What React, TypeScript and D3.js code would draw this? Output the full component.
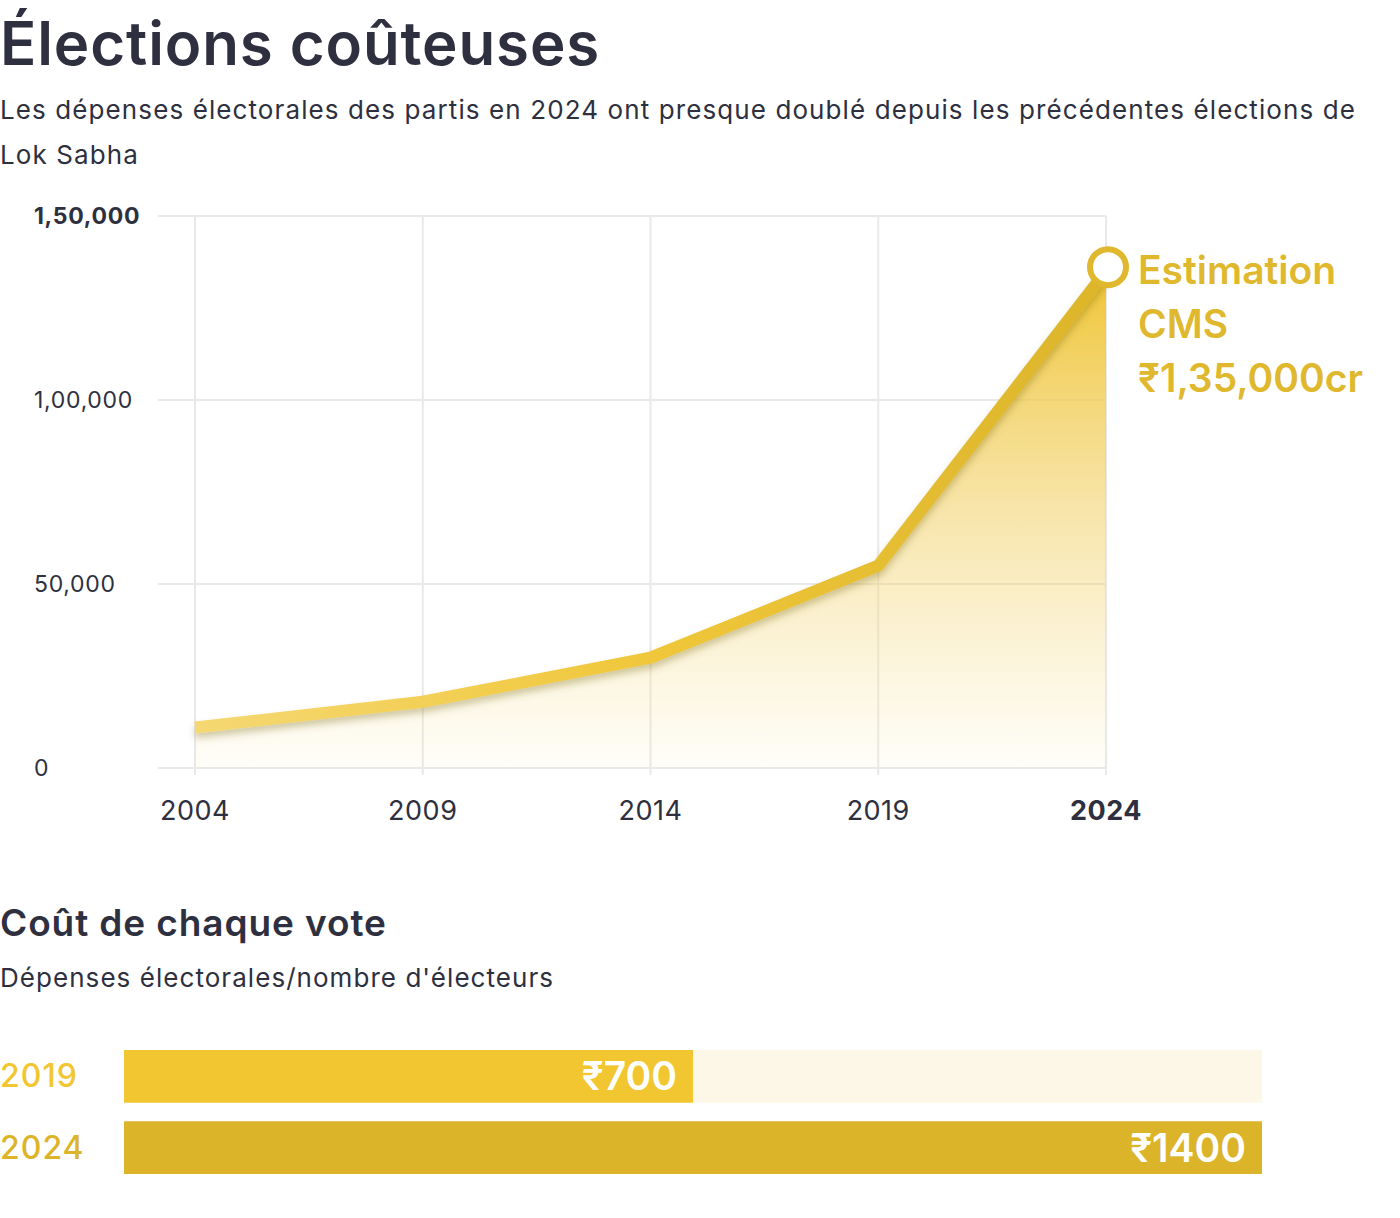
import React from "react";
import * as d3 from "d3";

const years = [2004, 2009, 2014, 2019, 2024];
const spending = [11000, 18000, 30000, 55000, 135000];
const yTicks = [0, 50000, 100000, 150000];
const yTickLabels = ["0", "50,000", "1,00,000", "1,50,000"];
const voteYears = ["2019", "2024"];
const voteCost = [700, 1400];
const voteLabels = ["₹700", "₹1400"];
const voteColors = ["#f1c630", "#dcb42a"];
const annotationLines = ["Estimation", "CMS", "₹1,35,000cr"];

const FONT = "Inter, 'Noto Sans', sans-serif";
const DARK = "#2e3040";

export default function App() {
  const x = d3.scalePoint<number>().domain(years).range([195, 1106]);
  const y = d3.scaleLinear().domain([0, 150000]).range([768, 216]);

  const pts: [number, number][] = years.map((yr, i) => [x(yr)!, y(spending[i])]);
  const line = d3.line<[number, number]>().x((d) => d[0]).y((d) => d[1]);
  const area = d3
    .area<[number, number]>()
    .x((d) => d[0])
    .y0(y(0))
    .y1((d) => d[1]);

  const barX = d3.scaleLinear().domain([0, 1400]).range([124, 1262]);
  const barY = d3.scaleBand<string>().domain(voteYears).range([1050, 1174]).paddingInner(0.26);

  const last = pts[pts.length - 1];

  return (
    <svg
      width={1400}
      height={1218}
      style={{ position: "absolute", left: 0, top: 0, background: "#fff" }}
      fontFamily={FONT}
    >
      <defs>
        <linearGradient id="areaGrad" gradientUnits="userSpaceOnUse" x1="0" y1={y(135000)} x2="0" y2={y(0)}>
          <stop offset="0" stopColor="#efc534" stopOpacity="1" />
          <stop offset="0.5" stopColor="#f2d16a" stopOpacity="0.55" />
          <stop offset="1" stopColor="#f6df8a" stopOpacity="0.06" />
        </linearGradient>
        <linearGradient id="lineGrad" gradientUnits="userSpaceOnUse" x1={x(2004)} y1="0" x2={x(2024)} y2="0">
          <stop offset="0" stopColor="#f5d873" />
          <stop offset="0.5" stopColor="#f0c73a" />
          <stop offset="1" stopColor="#dcb52b" />
        </linearGradient>
        <filter id="shadow" x="-10%" y="-10%" width="120%" height="130%">
          <feDropShadow dx="0" dy="5" stdDeviation="3.5" floodColor="#6b5a10" floodOpacity="0.3" />
        </filter>
      </defs>

      {/* Title */}
      <text x={0} y={65} fontSize={60} fontWeight={600} fill={DARK} letterSpacing={0.9}>
        Élections coûteuses
      </text>
      <text x={0} y={119} fontSize={26} fill={DARK} letterSpacing={1.1}>
        Les dépenses électorales des partis en 2024 ont presque doublé depuis les précédentes élections de
      </text>
      <text x={0} y={164} fontSize={26} fill={DARK} letterSpacing={1.1}>
        Lok Sabha
      </text>

      {/* Grid */}
      {yTicks.map((t) => (
        <line key={"h" + t} x1={158} x2={x(2024)} y1={y(t)} y2={y(t)} stroke="#e9e9e9" strokeWidth={2} />
      ))}
      {years.map((yr) => (
        <line key={"v" + yr} x1={x(yr)} x2={x(yr)} y1={y(150000)} y2={y(0) + 7} stroke="#e9e9e9" strokeWidth={2} />
      ))}

      {/* Y labels */}
      {yTicks.map((t, i) => (
        <text
          key={"yl" + t}
          x={34}
          y={y(t) + 8}
          fontSize={23}
          fontWeight={t === 150000 ? 700 : 400}
          fill={DARK}
          letterSpacing={0.7}
        >
          {yTickLabels[i]}
        </text>
      ))}

      {/* X labels */}
      {years.map((yr) => (
        <text
          key={"xl" + yr}
          x={x(yr)}
          y={820}
          fontSize={27}
          textAnchor="middle"
          fontWeight={yr === 2024 ? 700 : 400}
          fill={DARK}
          letterSpacing={0.5}
        >
          {yr}
        </text>
      ))}

      {/* Area & line */}
      <path d={area(pts)!} fill="url(#areaGrad)" />
      <path
        d={line(pts)!}
        fill="none"
        stroke="url(#lineGrad)"
        strokeWidth={12}
        strokeLinejoin="round"
        filter="url(#shadow)"
      />
      <circle cx={last[0] + 2} cy={last[1] - 4} r={18} fill="#fff" stroke="#dfb82d" strokeWidth={6} />

      {annotationLines.map((l, i) => (
        <text key={l} x={1138} y={284 + i * 54} fontSize={39} fontWeight={600} fill="#dfb82d">
          {l}
        </text>
      ))}

      {/* Second section */}
      <text x={0} y={936} fontSize={37} fontWeight={600} fill={DARK} letterSpacing={0.9}>
        Coût de chaque vote
      </text>
      <text x={0} y={987} fontSize={26} fill={DARK} letterSpacing={1.05}>
        Dépenses électorales/nombre d'électeurs
      </text>

      {voteYears.map((v, i) => (
        <g key={v}>
          <rect x={barX(0)} y={barY(v)} width={barX(1400) - barX(0)} height={barY.bandwidth()} fill="#fdf7e8" />
          <rect x={barX(0)} y={barY(v)} width={barX(voteCost[i]) - barX(0)} height={barY.bandwidth()} fill={voteColors[i]} />
          <text
            x={barX(voteCost[i]) - 16}
            y={barY(v)! + barY.bandwidth() / 2 + 14}
            fontSize={39}
            fontWeight={600}
            fill="#fff"
            textAnchor="end"
          >
            {voteLabels[i]}
          </text>
          <text
            x={0}
            y={barY(v)! + barY.bandwidth() / 2 + 11}
            fontSize={32}
            fontWeight={500}
            fill={voteColors[i]}
            letterSpacing={1}
          >
            {v}
          </text>
        </g>
      ))}
    </svg>
  );
}
